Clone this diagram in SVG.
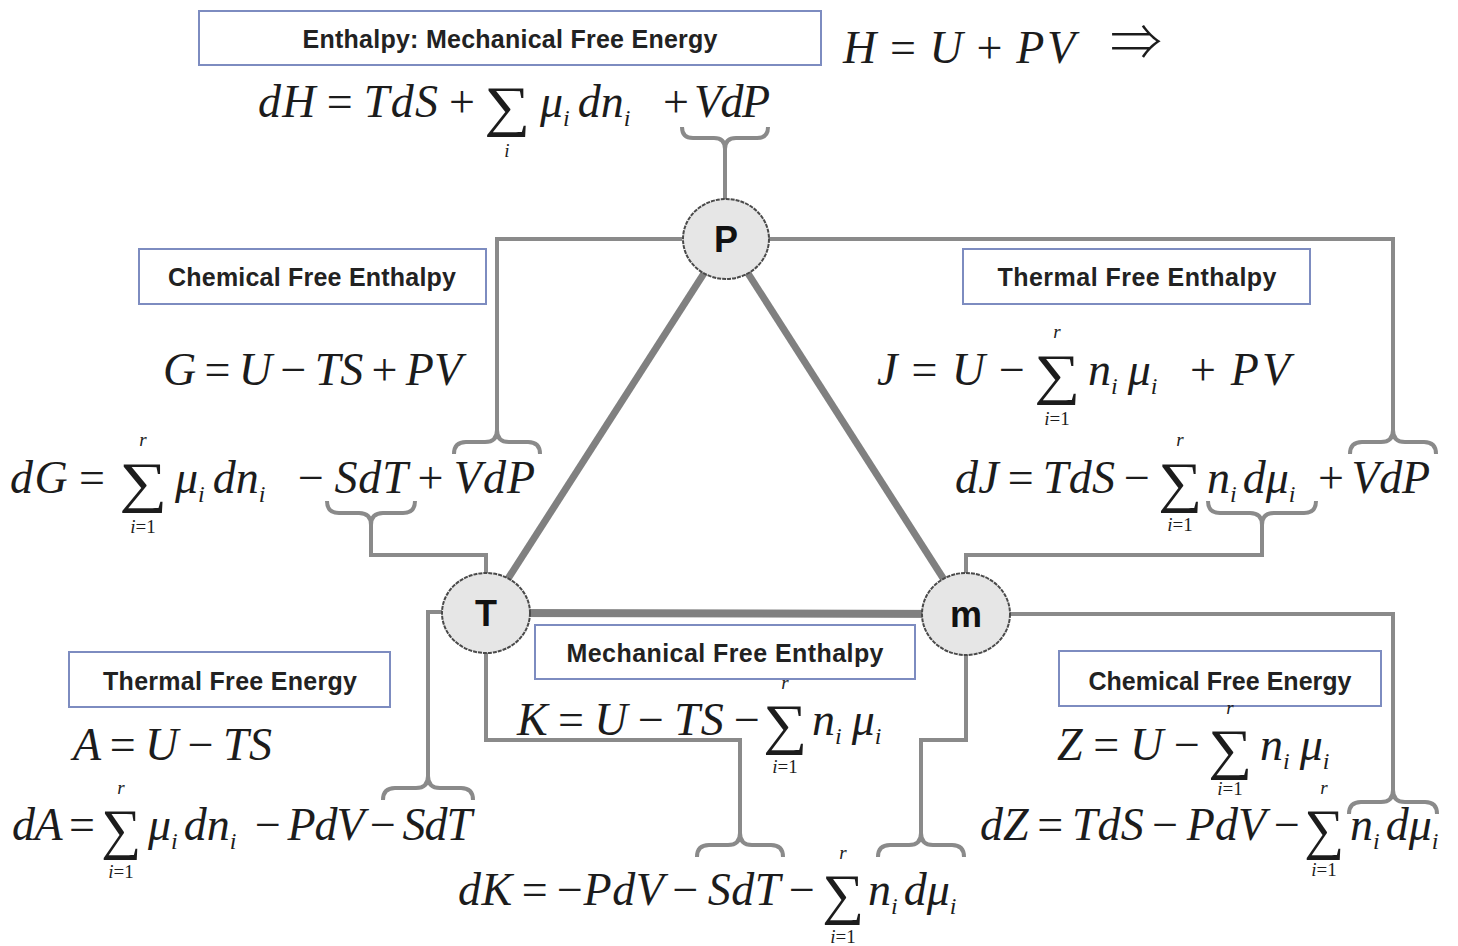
<svg xmlns="http://www.w3.org/2000/svg" width="1458" height="946" viewBox="0 0 1458 946">
<style>
.bg{fill:#ffffff}
.eq{font-family:"Liberation Serif",serif;font-style:italic;font-size:46px;fill:#1c1c1c;word-spacing:-3px}
.op{font-style:normal}
.sub{font-size:24px}
.sum{font-family:"Liberation Serif",serif;font-style:normal;font-size:56px;fill:#1c1c1c;text-anchor:middle}
.lim{font-family:"Liberation Serif",serif;font-style:italic;font-size:19px;fill:#1c1c1c;text-anchor:middle}
.lbl{font-family:"Liberation Sans",Arial,sans-serif;font-weight:bold;font-size:25px;fill:#222;text-anchor:middle}
.box{fill:#ffffff;stroke:#7d8cc0;stroke-width:2}
.wire{fill:none;stroke:#8a8a8a;stroke-width:4;stroke-linejoin:miter}
.edge{stroke:#808080;stroke-width:7}
.node ellipse{fill:#e6e6e6;stroke:#4a4a4a;stroke-width:2;stroke-dasharray:4 1}
.node text{font-family:"Liberation Sans",Arial,sans-serif;font-weight:bold;font-size:36px;fill:#111;text-anchor:middle}
</style>
<rect class="bg" x="0" y="0" width="1458" height="946"/>

<g id="connectors">
  <line class="edge" x1="726" y1="239" x2="486" y2="613"/>
  <line class="edge" x1="726" y1="239" x2="966" y2="614"/>
  <line class="edge" x1="486" y1="613" x2="966" y2="614" style="stroke-width:8"/>
  <path class="wire" d="M725,199 V149 Q725,138 714,138 H693 Q682,138 682,127 M725,149 Q725,138 736,138 H757 Q768,138 768,127"/>
  <path class="wire" d="M682,239 H497 V430 Q497,442 485,442 H466 Q454,442 454,454 M497,430 Q497,442 509,442 H528 Q540,442 540,454"/>
  <path class="wire" d="M768,239 H1393 V430 Q1393,442 1381,442 H1362 Q1350,442 1350,454 M1393,430 Q1393,442 1405,442 H1424 Q1436,442 1436,454"/>
  <path class="wire" d="M486,573 V555 H371 V525 Q371,513 359,513 H339 Q327,513 327,501 M371,525 Q371,513 383,513 H403 Q415,513 415,501"/>
  <path class="wire" d="M966,573 V555 H1262 V525 Q1262,513 1250,513 H1220 Q1208,513 1208,501 M1262,525 Q1262,513 1274,513 H1304 Q1316,513 1316,501"/>
  <path class="wire" d="M442,612 H428 V776 Q428,788 416,788 H395 Q383,788 383,800 M428,776 Q428,788 440,788 H461 Q473,788 473,800"/>
  <path class="wire" d="M486,653 V740 H740 V833 Q740,845 728,845 H709 Q697,845 697,857 M740,833 Q740,845 752,845 H771 Q783,845 783,857"/>
  <path class="wire" d="M966,655 V740 H921 V833 Q921,845 909,845 H890 Q878,845 878,857 M921,833 Q921,845 933,845 H952 Q964,845 964,857"/>
  <path class="wire" d="M1010,614 H1393 V790 Q1393,802 1381,802 H1361 Q1349,802 1349,814 M1393,790 Q1393,802 1405,802 H1425 Q1437,802 1437,814"/>
</g>

<g id="node-P" class="node"><ellipse cx="726" cy="239" rx="43" ry="40"/><text x="726" y="252">P</text></g>
<g id="node-T" class="node"><ellipse cx="486" cy="613" rx="44" ry="40"/><text x="486" y="626">T</text></g>
<g id="node-m" class="node"><ellipse cx="966" cy="614" rx="44" ry="41"/><text x="966" y="627">m</text></g>

<g id="enthalpy">
  <rect class="box" x="199" y="11" width="622" height="54"/>
  <text class="lbl" x="510" y="48" textLength="415">Enthalpy: Mechanical Free Energy</text>
  <text class="eq" x="843" y="63" textLength="232">H <tspan class="op">=</tspan> U <tspan class="op">+</tspan> PV</text>
  <text x="1110" y="60" style="font-family:'Noto Sans CJK JP','DejaVu Sans',sans-serif;font-weight:300;font-size:50px;fill:#1c1c1c" textLength="52" lengthAdjust="spacingAndGlyphs">⇒</text>
  <text class="eq" x="258" y="117" textLength="217">dH <tspan class="op">=</tspan> TdS <tspan class="op">+</tspan></text>
  <text class="sum" x="507" y="125" textLength="46" lengthAdjust="spacingAndGlyphs">∑</text>
  <text class="lim" x="507" y="157">i</text>
  <text class="eq" x="540" y="117">μ<tspan class="sub" dy="9">i</tspan><tspan dx="8" dy="-9">dn</tspan><tspan class="sub" dy="9">i</tspan></text>
  <text class="eq" x="663" y="117" textLength="107"><tspan class="op">+</tspan> VdP</text>
</g>

<g id="chemical-free-enthalpy">
  <rect class="box" x="139" y="249" width="347" height="55"/>
  <text class="lbl" x="312" y="286" textLength="288">Chemical Free Enthalpy</text>
  <text class="eq" x="163" y="385" textLength="299">G <tspan class="op">=</tspan> U <tspan class="op">−</tspan> TS <tspan class="op">+</tspan> PV</text>
  <text class="eq" x="10" y="493" textLength="95">dG <tspan class="op">=</tspan></text>
  <text class="sum" x="143" y="501" textLength="48" lengthAdjust="spacingAndGlyphs">∑</text>
  <text class="lim" x="143" y="446">r</text>
  <text class="lim" x="143" y="533">i<tspan class="op">=1</tspan></text>
  <text class="eq" x="175" y="493">μ<tspan class="sub" dy="9">i</tspan><tspan dx="8" dy="-9">dn</tspan><tspan class="sub" dy="9">i</tspan></text>
  <text class="eq" x="298" y="493" textLength="237"><tspan class="op">−</tspan> SdT <tspan class="op">+</tspan> VdP</text>
</g>

<g id="thermal-free-enthalpy">
  <rect class="box" x="963" y="249" width="347" height="55"/>
  <text class="lbl" x="1137" y="286" textLength="279">Thermal Free Enthalpy</text>
  <text class="eq" x="877" y="385" textLength="148">J <tspan class="op">=</tspan> U <tspan class="op">−</tspan></text>
  <text class="sum" x="1057" y="393" textLength="46" lengthAdjust="spacingAndGlyphs">∑</text>
  <text class="lim" x="1057" y="338">r</text>
  <text class="lim" x="1057" y="425">i<tspan class="op">=1</tspan></text>
  <text class="eq" x="1088" y="385">n<tspan class="sub" dy="9">i</tspan><tspan dx="10" dy="-9">μ</tspan><tspan class="sub" dy="9">i</tspan></text>
  <text class="eq" x="1190" y="385" textLength="100"><tspan class="op">+</tspan> PV</text>
  <text class="eq" x="955" y="493" textLength="195">dJ <tspan class="op">=</tspan> TdS <tspan class="op">−</tspan></text>
  <text class="sum" x="1180" y="501" textLength="44" lengthAdjust="spacingAndGlyphs">∑</text>
  <text class="lim" x="1180" y="446">r</text>
  <text class="lim" x="1180" y="531">i<tspan class="op">=1</tspan></text>
  <text class="eq" x="1207" y="493">n<tspan class="sub" dy="9">i</tspan><tspan dx="6" dy="-9">dμ</tspan><tspan class="sub" dy="9">i</tspan></text>
  <text class="eq" x="1318" y="493" textLength="112"><tspan class="op">+</tspan> VdP</text>
</g>

<g id="thermal-free-energy">
  <rect class="box" x="69" y="652" width="321" height="55"/>
  <text class="lbl" x="230" y="690" textLength="254">Thermal Free Energy</text>
  <text class="eq" x="73" y="760" textLength="199">A <tspan class="op">=</tspan> U <tspan class="op">−</tspan> TS</text>
  <text class="eq" x="12" y="840" textLength="83">dA <tspan class="op">=</tspan></text>
  <text class="sum" x="121" y="848" textLength="40" lengthAdjust="spacingAndGlyphs">∑</text>
  <text class="lim" x="121" y="794">r</text>
  <text class="lim" x="121" y="878">i<tspan class="op">=1</tspan></text>
  <text class="eq" x="148" y="840">μ<tspan class="sub" dy="9">i</tspan><tspan dx="6" dy="-9">dn</tspan><tspan class="sub" dy="9">i</tspan></text>
  <text class="eq" x="255" y="840" textLength="217"><tspan class="op">−</tspan> PdV <tspan class="op">−</tspan> SdT</text>
</g>

<g id="mechanical-free-enthalpy">
  <rect class="box" x="535" y="625" width="380" height="54"/>
  <text class="lbl" x="725" y="662" textLength="317">Mechanical Free Enthalpy</text>
  <text class="eq" x="517" y="735" textLength="243">K <tspan class="op">=</tspan> U <tspan class="op">−</tspan> TS <tspan class="op">−</tspan></text>
  <text class="sum" x="785" y="743" textLength="44" lengthAdjust="spacingAndGlyphs">∑</text>
  <text class="lim" x="785" y="689">r</text>
  <text class="lim" x="785" y="773">i<tspan class="op">=1</tspan></text>
  <text class="eq" x="812" y="735">n<tspan class="sub" dy="9">i</tspan><tspan dx="10" dy="-9">μ</tspan><tspan class="sub" dy="9">i</tspan></text>
  <text class="eq" x="458" y="905" textLength="357">dK <tspan class="op">= −</tspan>PdV <tspan class="op">−</tspan> SdT <tspan class="op">−</tspan></text>
  <text class="sum" x="843" y="913" textLength="42" lengthAdjust="spacingAndGlyphs">∑</text>
  <text class="lim" x="843" y="859">r</text>
  <text class="lim" x="843" y="943">i<tspan class="op">=1</tspan></text>
  <text class="eq" x="868" y="905">n<tspan class="sub" dy="9">i</tspan><tspan dx="6" dy="-9">dμ</tspan><tspan class="sub" dy="9">i</tspan></text>
</g>

<g id="chemical-free-energy">
  <rect class="box" x="1059" y="651" width="322" height="55"/>
  <text class="lbl" x="1220" y="690" textLength="263">Chemical Free Energy</text>
  <text class="eq" x="1057" y="760" textLength="143">Z <tspan class="op">=</tspan> U <tspan class="op">−</tspan></text>
  <text class="sum" x="1230" y="768" textLength="44" lengthAdjust="spacingAndGlyphs">∑</text>
  <text class="lim" x="1230" y="714">r</text>
  <text class="lim" x="1230" y="795">i<tspan class="op">=1</tspan></text>
  <text class="eq" x="1260" y="760">n<tspan class="sub" dy="9">i</tspan><tspan dx="10" dy="-9">μ</tspan><tspan class="sub" dy="9">i</tspan></text>
  <text class="eq" x="980" y="840" textLength="320">dZ <tspan class="op">=</tspan> TdS <tspan class="op">−</tspan> PdV <tspan class="op">−</tspan></text>
  <text class="sum" x="1324" y="848" textLength="40" lengthAdjust="spacingAndGlyphs">∑</text>
  <text class="lim" x="1324" y="794">r</text>
  <text class="lim" x="1324" y="876">i<tspan class="op">=1</tspan></text>
  <text class="eq" x="1350" y="840">n<tspan class="sub" dy="9">i</tspan><tspan dx="6" dy="-9">dμ</tspan><tspan class="sub" dy="9">i</tspan></text>
</g>
</svg>
